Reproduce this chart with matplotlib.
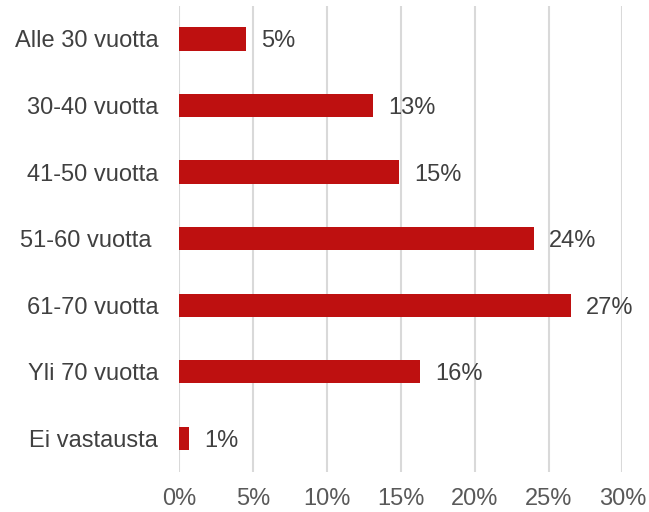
import matplotlib.pyplot as plt
from matplotlib.ticker import PercentFormatter

# --- Data ---
categories = ["Alle 30 vuotta", "30-40 vuotta", "41-50 vuotta", "51-60 vuotta ",
              "61-70 vuotta", "Yli 70 vuotta", "Ei vastausta"]
values = [4.5, 13.1, 14.9, 24.0, 26.5, 16.3, 0.7]
labels = ["5%", "13%", "15%", "24%", "27%", "16%", "1%"]
xticks = [0, 5, 10, 15, 20, 25, 30]

BAR_COLOR = "#BE1010"
GRID_COLOR = "#D9D9D9"

plt.rcParams['font.family'] = ['Liberation Sans', 'DejaVu Sans']

fig = plt.figure(figsize=(6.49, 5.12), dpi=100)
ax = fig.add_axes([0.276, 0.079, 0.683, 0.910])

pos = list(range(len(categories)))
bars = ax.barh(pos, values, height=0.35, color=BAR_COLOR, zorder=3)

for b, lab in zip(bars, labels):
    ax.annotate(lab, (b.get_width(), b.get_y() + b.get_height() / 2),
                xytext=(11, 0), textcoords="offset points",
                va="center_baseline", ha="left", fontsize=17, color="#404040")

ax.set_yticks(pos)
ax.set_yticklabels(categories, va="center_baseline")
ax.set_ylim(len(categories) - 0.5, -0.5)
ax.set_xlim(0, 30)
ax.set_xticks(xticks)
ax.xaxis.set_major_formatter(PercentFormatter(decimals=0))

ax.grid(axis="x", color=GRID_COLOR, linewidth=1.5, zorder=0)
for s in ax.spines.values():
    s.set_visible(False)
ax.tick_params(axis="y", length=0, pad=15, labelsize=17, labelcolor="#404040")
ax.tick_params(axis="x", length=0, pad=12, labelsize=17, labelcolor="#595959")

fig.savefig("out.png", dpi=100)
